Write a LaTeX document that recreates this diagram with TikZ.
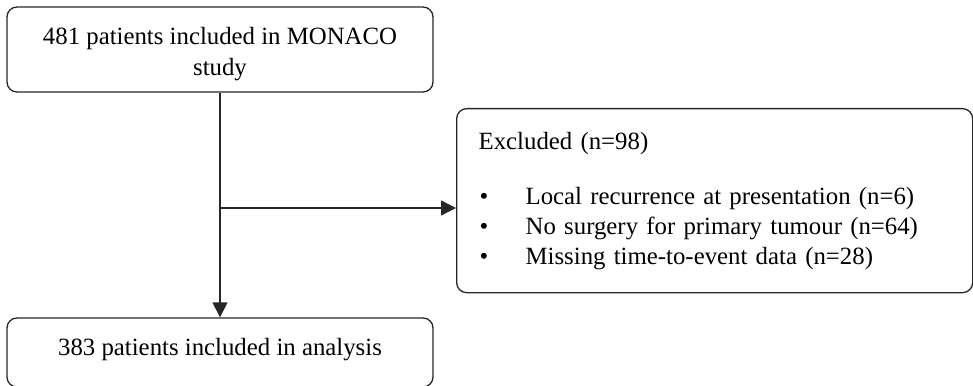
\documentclass[tikz,border=0pt]{standalone}
\usepackage{fontspec}
\setmainfont{Liberation Serif}
\usetikzlibrary{arrows.meta}
\begin{document}
\begin{tikzpicture}[x=1pt,y=-1pt,
  box/.style={draw=black!85, line width=1.3pt, rounded corners=10pt, inner sep=0pt,
    font=\fontsize{24.8}{31}\selectfont},
  arr/.style={draw=black!85, line width=1.3pt, -{Triangle[length=15pt,width=15pt]}}]
\useasboundingbox (0,0) rectangle (973,385);
\node[box, minimum width=426pt, minimum height=85pt, text height=42pt, text depth=20pt] (top) at (220,49.5)
  {\begin{tabular}{@{}c@{}}481 patients included in MONACO\\study\end{tabular}};
\node[box, anchor=north west, minimum width=516pt, minimum height=184pt, inner xsep=22pt, text width=472pt] (excl) at (456,108)
  {\fontsize{24.8}{30}\selectfont
   \begin{tabular}{@{}l@{}}
   Excluded (n=98)\\[25pt]
   \makebox[47pt][l]{\hspace{1pt}\textbullet}Local recurrence at presentation (n=6)\\
   \makebox[47pt][l]{\hspace{1pt}\textbullet}No surgery for primary tumour (n=64)\\
   \makebox[47pt][l]{\hspace{1pt}\textbullet}Missing time-to-event data (n=28)
   \end{tabular}};
\node[box, minimum width=426pt, minimum height=69pt, text height=12pt, text depth=7pt] (bot) at (220,352.5)
  {383 patients included in analysis};
\coordinate (j) at (220,208);
\draw[arr] (top.south) -- (bot.north);
\draw[arr] (j) -- (j -| excl.west);
\end{tikzpicture}
\end{document}
